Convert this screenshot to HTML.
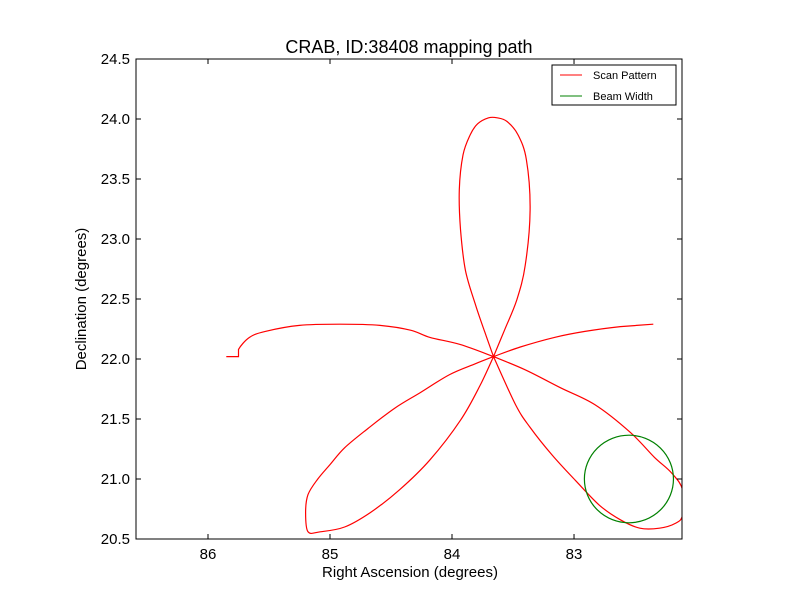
<!DOCTYPE html>
<html><head><meta charset="utf-8"><style>
body{margin:0;background:#fff;}
svg{font-family:"Liberation Sans","DejaVu Sans",sans-serif;}
</style></head><body>
<svg id="c" width="800" height="600" xmlns="http://www.w3.org/2000/svg">
<rect width="800" height="600" fill="#fff"/>
<text x="409" y="53" font-size="18" text-anchor="middle">CRAB, ID:38408 mapping path</text>
<g id="plot"></g>
<text x="410" y="577" font-size="15" text-anchor="middle">Right Ascension (degrees)</text>
<text transform="translate(86,299) rotate(-90)" font-size="15" text-anchor="middle">Declination (degrees)</text>
<g>
<rect x="552" y="65" width="124" height="40" fill="#fff" stroke="#000" stroke-width="1"/>
<line x1="560" y1="75" x2="582" y2="75" stroke="red"/>
<text x="593" y="79" font-size="11">Scan Pattern</text>
<line x1="560" y1="96" x2="582" y2="96" stroke="green"/>
<text x="593" y="100" font-size="11">Beam Width</text>
</g>
</svg>
<script>
const raVals=[85.85,85.75,85.75,85.66,85.53,85.25,84.92,84.59,84.34,84.18,83.93,83.66,83.57,83.47,83.40,83.36,83.39,83.46,83.55,83.63,83.70,83.79,83.85,83.91,83.94,83.93,83.89,83.81,83.73,83.66,83.48,83.36,83.18,82.99,82.79,82.62,82.46,82.30,82.17,82.11,82.11,82.20,82.34,82.54,82.83,83.11,83.40,83.66,83.77,83.93,84.18,84.43,84.67,84.88,85.08,85.18,85.20,85.18,85.10,85.00,84.88,84.69,84.47,84.26,84.02,83.81,83.66,83.44,83.16,82.91,82.62,82.35];
const decVals=[22.02,22.02,22.08,22.18,22.23,22.28,22.29,22.28,22.24,22.18,22.12,22.02,22.24,22.49,22.78,23.24,23.66,23.87,23.98,24.01,24.01,23.96,23.87,23.70,23.41,23.08,22.74,22.46,22.22,22.02,21.62,21.43,21.20,20.99,20.78,20.66,20.59,20.59,20.63,20.70,20.91,21.05,21.18,21.39,21.62,21.76,21.91,22.02,21.78,21.49,21.16,20.91,20.72,20.60,20.56,20.56,20.72,20.87,21.00,21.12,21.26,21.42,21.59,21.72,21.87,21.96,22.02,22.10,22.18,22.23,22.27,22.29];
const beamCenter=[82.55,21.0];
const beamRadius=0.365;
const xTicks=[86,85,84,83];
const yTicks=[20.5,21.0,21.5,22.0,22.5,23.0,23.5,24.0,24.5];
const L=136,R=682,T=59,B=539,xMin=82.115,xMax=86.59,yMin=20.5,yMax=24.5;
const sx=v=>L+(xMax-v)/(xMax-xMin)*(R-L);
const sy=v=>B-(v-yMin)/(yMax-yMin)*(B-T);
const NS="http://www.w3.org/2000/svg";
const g=document.getElementById('plot');
function mk(t,a){const e=document.createElementNS(NS,t);for(const k in a)e.setAttribute(k,a[k]);return e;}
const defs=mk('defs',{});const cp=mk('clipPath',{id:'clip'});cp.appendChild(mk('rect',{x:L,y:T,width:R-L,height:B-T}));defs.appendChild(cp);g.appendChild(defs);
const pts=raVals.map((r,i)=>[sx(r),sy(decVals[i])]);
const isCenter=i=>Math.abs(raVals[i]-83.66)<0.001&&Math.abs(decVals[i]-22.02)<0.001;
let d='M'+pts[0][0].toFixed(1)+','+pts[0][1].toFixed(1);
for(let i=0;i<pts.length-1;i++){
  const p0=pts[i],p1=pts[i+1];
  if(i<2||i===pts.length-2){d+='L'+p1[0].toFixed(1)+','+p1[1].toFixed(1);continue;}
  const pm=isCenter(i)?p0:pts[i-1];
  const p2=isCenter(i+1)?p1:pts[i+2];
  const c1=[p0[0]+(p1[0]-pm[0])/6,p0[1]+(p1[1]-pm[1])/6];
  const c2=[p1[0]-(p2[0]-p0[0])/6,p1[1]-(p2[1]-p0[1])/6];
  d+='C'+c1[0].toFixed(1)+','+c1[1].toFixed(1)+' '+c2[0].toFixed(1)+','+c2[1].toFixed(1)+' '+p1[0].toFixed(1)+','+p1[1].toFixed(1);
}
const p=mk('path',{d:d,fill:'none',stroke:'red','stroke-width':1.2,'clip-path':'url(#clip)'});


g.appendChild(p);
const c=mk('ellipse',{cx:sx(beamCenter[0]),cy:sy(beamCenter[1]),rx:beamRadius*(R-L)/(xMax-xMin),ry:beamRadius*(B-T)/(yMax-yMin),fill:'none',stroke:'green','stroke-width':1.2,'clip-path':'url(#clip)'});


g.appendChild(c);
const fr=mk('rect',{x:L,y:T,width:R-L,height:B-T,fill:'none',stroke:'#000','stroke-width':1});


g.appendChild(fr);
xTicks.forEach(v=>{const x=sx(v);
g.appendChild(mk('line',{x1:x,y1:B,x2:x,y2:B-5,stroke:'#000'}));
g.appendChild(mk('line',{x1:x,y1:T,x2:x,y2:T+5,stroke:'#000'}));
const t=mk('text',{x:x,y:B+20,'font-size':15,'text-anchor':'middle'});t.textContent=v;


g.appendChild(t);});
yTicks.forEach(v=>{const y=sy(v);
g.appendChild(mk('line',{x1:L,y1:y,x2:L+5,y2:y,stroke:'#000'}));
g.appendChild(mk('line',{x1:R,y1:y,x2:R-5,y2:y,stroke:'#000'}));
const t=mk('text',{x:L-6,y:y+5,'font-size':15,'text-anchor':'end'});t.textContent=v.toFixed(1);


g.appendChild(t);});
</script>
</body></html>
